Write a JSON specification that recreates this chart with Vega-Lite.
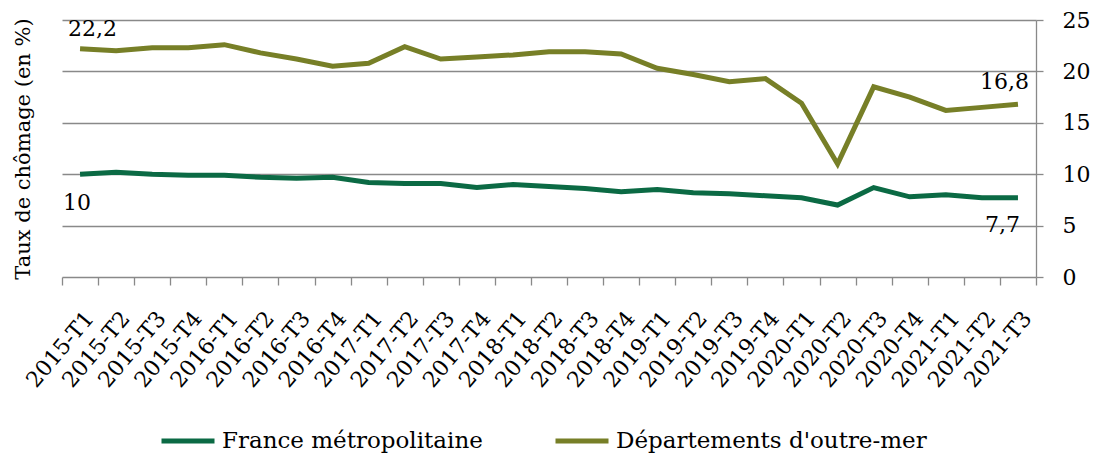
{
  "$schema": "https://vega.github.io/schema/vega-lite/v6.json",
  "autosize": "none",
  "width": 974,
  "height": 257,
  "padding": {"left": 62, "top": 20, "right": 59, "bottom": 178},
  "background": "white",
  "config": {
    "font": "DejaVu Serif",
    "view": {"stroke": null},
    "legend": {
      "orient": "none",
      "legendX": 97,
      "legendY": 392,
      "direction": "horizontal",
      "title": null,
      "symbolType": "stroke",
      "symbolSize": 2809,
      "symbolStrokeWidth": 5,
      "labelFontSize": 23,
      "labelColor": "black",
      "labelLimit": 0,
      "labelOffset": 5,
      "columnPadding": 62
    }
  },
  "data": {
    "values": [
      {"quarter": "2015-T1", "serie": "France métropolitaine", "taux": 10.0, "label": "10"},
      {"quarter": "2015-T2", "serie": "France métropolitaine", "taux": 10.2, "label": ""},
      {"quarter": "2015-T3", "serie": "France métropolitaine", "taux": 10.0, "label": ""},
      {"quarter": "2015-T4", "serie": "France métropolitaine", "taux": 9.9, "label": ""},
      {"quarter": "2016-T1", "serie": "France métropolitaine", "taux": 9.9, "label": ""},
      {"quarter": "2016-T2", "serie": "France métropolitaine", "taux": 9.7, "label": ""},
      {"quarter": "2016-T3", "serie": "France métropolitaine", "taux": 9.6, "label": ""},
      {"quarter": "2016-T4", "serie": "France métropolitaine", "taux": 9.7, "label": ""},
      {"quarter": "2017-T1", "serie": "France métropolitaine", "taux": 9.2, "label": ""},
      {"quarter": "2017-T2", "serie": "France métropolitaine", "taux": 9.1, "label": ""},
      {"quarter": "2017-T3", "serie": "France métropolitaine", "taux": 9.1, "label": ""},
      {"quarter": "2017-T4", "serie": "France métropolitaine", "taux": 8.7, "label": ""},
      {"quarter": "2018-T1", "serie": "France métropolitaine", "taux": 9.0, "label": ""},
      {"quarter": "2018-T2", "serie": "France métropolitaine", "taux": 8.8, "label": ""},
      {"quarter": "2018-T3", "serie": "France métropolitaine", "taux": 8.6, "label": ""},
      {"quarter": "2018-T4", "serie": "France métropolitaine", "taux": 8.3, "label": ""},
      {"quarter": "2019-T1", "serie": "France métropolitaine", "taux": 8.5, "label": ""},
      {"quarter": "2019-T2", "serie": "France métropolitaine", "taux": 8.2, "label": ""},
      {"quarter": "2019-T3", "serie": "France métropolitaine", "taux": 8.1, "label": ""},
      {"quarter": "2019-T4", "serie": "France métropolitaine", "taux": 7.9, "label": ""},
      {"quarter": "2020-T1", "serie": "France métropolitaine", "taux": 7.7, "label": ""},
      {"quarter": "2020-T2", "serie": "France métropolitaine", "taux": 7.0, "label": ""},
      {"quarter": "2020-T3", "serie": "France métropolitaine", "taux": 8.7, "label": ""},
      {"quarter": "2020-T4", "serie": "France métropolitaine", "taux": 7.8, "label": ""},
      {"quarter": "2021-T1", "serie": "France métropolitaine", "taux": 8.0, "label": ""},
      {"quarter": "2021-T2", "serie": "France métropolitaine", "taux": 7.7, "label": ""},
      {"quarter": "2021-T3", "serie": "France métropolitaine", "taux": 7.7, "label": "7,7"},
      {"quarter": "2015-T1", "serie": "Départements d'outre-mer", "taux": 22.2, "label": "22,2"},
      {"quarter": "2015-T2", "serie": "Départements d'outre-mer", "taux": 22.0, "label": ""},
      {"quarter": "2015-T3", "serie": "Départements d'outre-mer", "taux": 22.3, "label": ""},
      {"quarter": "2015-T4", "serie": "Départements d'outre-mer", "taux": 22.3, "label": ""},
      {"quarter": "2016-T1", "serie": "Départements d'outre-mer", "taux": 22.6, "label": ""},
      {"quarter": "2016-T2", "serie": "Départements d'outre-mer", "taux": 21.8, "label": ""},
      {"quarter": "2016-T3", "serie": "Départements d'outre-mer", "taux": 21.2, "label": ""},
      {"quarter": "2016-T4", "serie": "Départements d'outre-mer", "taux": 20.5, "label": ""},
      {"quarter": "2017-T1", "serie": "Départements d'outre-mer", "taux": 20.8, "label": ""},
      {"quarter": "2017-T2", "serie": "Départements d'outre-mer", "taux": 22.4, "label": ""},
      {"quarter": "2017-T3", "serie": "Départements d'outre-mer", "taux": 21.2, "label": ""},
      {"quarter": "2017-T4", "serie": "Départements d'outre-mer", "taux": 21.4, "label": ""},
      {"quarter": "2018-T1", "serie": "Départements d'outre-mer", "taux": 21.6, "label": ""},
      {"quarter": "2018-T2", "serie": "Départements d'outre-mer", "taux": 21.9, "label": ""},
      {"quarter": "2018-T3", "serie": "Départements d'outre-mer", "taux": 21.9, "label": ""},
      {"quarter": "2018-T4", "serie": "Départements d'outre-mer", "taux": 21.7, "label": ""},
      {"quarter": "2019-T1", "serie": "Départements d'outre-mer", "taux": 20.3, "label": ""},
      {"quarter": "2019-T2", "serie": "Départements d'outre-mer", "taux": 19.7, "label": ""},
      {"quarter": "2019-T3", "serie": "Départements d'outre-mer", "taux": 19.0, "label": ""},
      {"quarter": "2019-T4", "serie": "Départements d'outre-mer", "taux": 19.3, "label": ""},
      {"quarter": "2020-T1", "serie": "Départements d'outre-mer", "taux": 16.9, "label": ""},
      {"quarter": "2020-T2", "serie": "Départements d'outre-mer", "taux": 11.0, "label": ""},
      {"quarter": "2020-T3", "serie": "Départements d'outre-mer", "taux": 18.5, "label": ""},
      {"quarter": "2020-T4", "serie": "Départements d'outre-mer", "taux": 17.5, "label": ""},
      {"quarter": "2021-T1", "serie": "Départements d'outre-mer", "taux": 16.2, "label": ""},
      {"quarter": "2021-T2", "serie": "Départements d'outre-mer", "taux": 16.5, "label": ""},
      {"quarter": "2021-T3", "serie": "Départements d'outre-mer", "taux": 16.8, "label": "16,8"}
    ]
  },
  "encoding": {
    "x": {
      "field": "quarter",
      "type": "ordinal",
      "bandPosition": 0.5,
      "scale": {"type": "band", "paddingInner": 0, "paddingOuter": 0},
      "axis": {
        "title": null,
        "labelAngle": -50,
        "labelFontSize": 22,
        "labelColor": "black",
        "labelAlign": "right",
        "labelBaseline": "middle",
        "labelPadding": 29,
        "labelOffset": 9,
        "tickBand": "extent",
        "tickSize": 8,
        "tickColor": "#898989",
        "tickWidth": 1.3,
        "domainColor": "#898989",
        "domainWidth": 1.3,
        "grid": false
      }
    },
    "y": {
      "field": "taux",
      "type": "quantitative",
      "scale": {"domain": [0, 25], "nice": false, "zero": true}
    }
  },
  "layer": [
    {
      "mark": {"type": "line", "strokeWidth": 5, "strokeJoin": "miter"},
      "encoding": {
        "y": {
          "field": "taux",
          "type": "quantitative",
          "axis": {
            "orient": "left",
            "title": "Taux de chômage (en %)",
            "titleFontSize": 21,
            "titleFontWeight": "normal",
            "titleColor": "black",
            "titlePadding": 29,
            "labels": false,
            "ticks": false,
            "domain": false,
            "grid": true,
            "gridColor": "#898989",
            "gridWidth": 1.3,
            "values": [5, 10, 15, 20, 25]
          }
        },
        "color": {
          "field": "serie",
          "type": "nominal",
          "scale": {
            "domain": ["France métropolitaine", "Départements d'outre-mer"],
            "range": ["#0b6a44", "#777f27"]
          }
        }
      }
    },
    {
      "transform": [{"filter": "datum.quarter == '2015-T1' && datum.serie == 'Départements d\\'outre-mer'"}],
      "mark": {"type": "text", "align": "left", "baseline": "alphabetic", "dx": -12, "dy": -13, "fontSize": 22, "color": "black"},
      "encoding": {
        "text": {"field": "label"},
        "y": {
          "field": "taux",
          "type": "quantitative",
          "axis": {
            "orient": "right",
            "title": null,
            "values": [0, 5, 10, 15, 20, 25],
            "labelFontSize": 22,
            "labelColor": "black",
            "labelPadding": 19,
            "tickSize": 7,
            "tickColor": "#898989",
            "tickWidth": 1.3,
            "domainColor": "#898989",
            "domainWidth": 1.3,
            "grid": false
          }
        }
      }
    },
    {
      "transform": [{"filter": "datum.quarter == '2015-T1' && datum.serie == 'France métropolitaine'"}],
      "mark": {"type": "text", "align": "left", "baseline": "alphabetic", "dx": -17, "dy": 36, "fontSize": 22, "color": "black"},
      "encoding": {
        "text": {"field": "label"},
        "y": {"field": "taux", "type": "quantitative", "axis": null}
      }
    },
    {
      "transform": [{"filter": "datum.quarter == '2021-T3' && datum.serie == 'Départements d\\'outre-mer'"}],
      "mark": {"type": "text", "align": "left", "baseline": "alphabetic", "dx": -38, "dy": -15, "fontSize": 22, "color": "black"},
      "encoding": {
        "text": {"field": "label"},
        "y": {"field": "taux", "type": "quantitative", "axis": null}
      }
    },
    {
      "transform": [{"filter": "datum.quarter == '2021-T3' && datum.serie == 'France métropolitaine'"}],
      "mark": {"type": "text", "align": "left", "baseline": "alphabetic", "dx": -33, "dy": 34, "fontSize": 22, "color": "black"},
      "encoding": {
        "text": {"field": "label"},
        "y": {"field": "taux", "type": "quantitative", "axis": null}
      }
    }
  ],
  "resolve": {"axis": {"y": "independent"}}
}
